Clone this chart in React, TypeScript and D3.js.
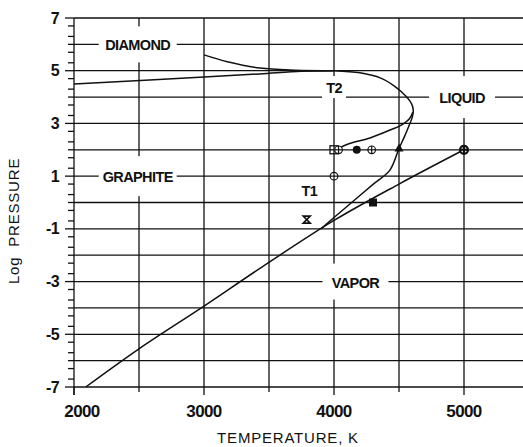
import React from "react";
import * as d3 from "d3";

// Phase diagram of carbon: log pressure vs temperature (K)
const W = 523;
const H = 447;

const xTicksMajor = [2000, 3000, 4000, 5000];
const xTicksMinor = [2500, 3500, 4500, 5500];
const yTickLabels = [7, 5, 3, 1, -1, -3, -5, -7];
const yGrid = [7, 6, 5, 4, 3, 2, 1, 0, -1, -2, -3, -4, -5, -6, -7];
const xGrid = [2500, 3000, 3500, 4000, 4500, 5000, 5500];

// Graphite / diamond boundary up to the T2 triple point
const graphiteDiamond: [number, number][] = [
  [2000, 4.5], [3000, 4.76], [3430, 4.88], [3750, 4.98], [4000, 5.0],
];
// Metastable diamond branch
const diamondBranch: [number, number][] = [
  [3000, 5.6], [3180, 5.34], [3430, 5.1], [3700, 5.02], [4000, 5.0],
];
// Melting curve from T2 round the bulge down to T1
const meltingCurve: [number, number][] = [
  [4000, 5.0], [4200, 4.92], [4360, 4.72], [4470, 4.4], [4550, 4.05],
  [4596, 3.75], [4610, 3.5], [4603, 3.25], [4580, 2.95], [4542, 2.5],
  [4500, 2.05], [4430, 1.23], [4300, 0.69], [4136, 0.0], [4000, -0.57],
  [3900, -1.0],
];
// Inner branch from the bulge back to 4000 K
const innerBranch: [number, number][] = [
  [4606, 3.42], [4580, 3.18], [4510, 2.92], [4431, 2.75], [4277, 2.45],
  [4120, 2.24], [4020, 2.02],
];
// Sublimation (vapor) curve
const vaporCurve: [number, number][] = [
  [2090, -7], [2500, -5.55], [3000, -3.93], [3430, -2.5], [4000, -0.68],
  [4500, 0.7], [5000, 2.0],
];

// Experimental points
const squareCross: [number, number][] = [[4000, 2]];
const circleCross: [number, number][] = [[4035, 2], [4290, 2], [4000, 1]];
const boldCircleCross: [number, number][] = [[5000, 2]];
const filledCircle: [number, number][] = [[4175, 2]];
const filledTriangle: [number, number][] = [[4500, 2.05]];
const filledSquare: [number, number][] = [[4300, 0.0]];
const hourglass: [number, number][] = [[3790, -0.65]];

// Region labels: text, temperature, log pressure, box width, box height
const regionNames = ["DIAMOND", "GRAPHITE", "LIQUID", "VAPOR", "T2", "T1"];
const regionT = [2490, 2490, 4985, 4165, 4000, 3810];
const regionP = [6, 1, 4, -3, 4.38, 0.47];
const regionBoxW = [78, 78, 66, 66, 24, 0];
const regionBoxH = [36, 40, 42, 36, 22, 0];

export default function App() {
  const x = d3.scaleLinear().domain([2000, 5500]).range([74, 529]);
  const y = d3.scaleLinear().domain([-7, 7]).range([387, 18]);
  const line = d3
    .line<[number, number]>()
    .x((d) => x(d[0]))
    .y((d) => y(d[1]))
    .curve(d3.curveCatmullRom.alpha(0.5));

  const yMinor: number[] = [];
  for (let k = -7; k < 7; k++) {
    yMinor.push(k + 0.301, k + 0.699);
  }

  const stroke = "#111";
  const curveW = 1.5;

  const circlePlus = (p: [number, number], r: number, sw: number, key: string) => {
    const cx = x(p[0]);
    const cy = y(p[1]);
    return (
      <g key={key} stroke={stroke} strokeWidth={sw} fill="white">
        <circle cx={cx} cy={cy} r={r} />
        <line x1={cx - r} x2={cx + r} y1={cy} y2={cy} />
        <line x1={cx} x2={cx} y1={cy - r} y2={cy + r} />
      </g>
    );
  };

  return (
    <svg
      width={W}
      height={H}
      style={{ position: "absolute", left: 0, top: 0, background: "white" }}
    >
      <rect x={0} y={0} width={W} height={H} fill="white" />

      {/* grid */}
      <g stroke={stroke} strokeWidth={1.3}>
        {yGrid.map((v) => (
          <line key={"hg" + v} x1={x(2000)} x2={x(5500)} y1={y(v)} y2={y(v)} />
        ))}
        {xGrid.map((v) => (
          <line key={"vg" + v} x1={x(v)} x2={x(v)} y1={y(7)} y2={y(-7)} />
        ))}
        <line x1={x(2000)} x2={x(2000)} y1={y(7)} y2={y(-7) + 8} />
      </g>

      {/* axis ticks */}
      <g stroke={stroke} strokeWidth={1.3}>
        {yGrid.map((v) => (
          <line
            key={"yt" + v}
            x1={x(2000) - (Math.abs(v) % 2 === 1 ? 9 : 6)}
            x2={x(2000)}
            y1={y(v)}
            y2={y(v)}
          />
        ))}
        {yMinor.map((v, i) => (
          <line key={"ym" + i} x1={x(2000) - 6} x2={x(2000)} y1={y(v)} y2={y(v)} />
        ))}
        {xTicksMajor.map((v) => (
          <line key={"xt" + v} x1={x(v)} x2={x(v)} y1={y(-7)} y2={y(-7) + 8} />
        ))}
        {xTicksMinor.map((v) => (
          <line key={"xm" + v} x1={x(v)} x2={x(v)} y1={y(-7)} y2={y(-7) + 5} />
        ))}
      </g>

      {/* label boxes hide the grid behind the region names */}
      {regionNames.map((n, i) =>
        regionBoxW[i] > 0 ? (
          <rect
            key={"bx" + n}
            x={x(regionT[i]) - regionBoxW[i] / 2}
            y={y(regionP[i]) - regionBoxH[i] / 2}
            width={regionBoxW[i]}
            height={regionBoxH[i]}
            fill="white"
          />
        ) : null
      )}

      {/* phase boundaries */}
      <g fill="none" stroke={stroke} strokeWidth={curveW} strokeLinejoin="round">
        <path d={line(graphiteDiamond) || ""} />
        <path d={line(diamondBranch) || ""} />
        <path d={line(meltingCurve) || ""} />
        <path d={line(innerBranch) || ""} />
        <path d={line(vaporCurve) || ""} />
      </g>

      {/* markers */}
      {squareCross.map((p, i) => {
        const cx = x(p[0]);
        const cy = y(p[1]);
        return (
          <g key={"sq" + i} stroke={stroke} strokeWidth={1.3} fill="white">
            <rect x={cx - 4} y={cy - 4} width={8} height={8} />
            <line x1={cx - 4} x2={cx + 4} y1={cy} y2={cy} />
            <line x1={cx} x2={cx} y1={cy - 4} y2={cy + 4} />
          </g>
        );
      })}
      {circleCross.map((p, i) => circlePlus(p, 3.8, 1.2, "cc" + i))}
      {boldCircleCross.map((p, i) => circlePlus(p, 4, 2.2, "bc" + i))}
      {filledCircle.map((p, i) => (
        <circle key={"fc" + i} cx={x(p[0])} cy={y(p[1])} r={4} fill={stroke} />
      ))}
      {filledTriangle.map((p, i) => {
        const cx = x(p[0]);
        const cy = y(p[1]);
        return (
          <path
            key={"tr" + i}
            d={`M${cx},${cy - 5}L${cx + 4.5},${cy + 3}L${cx - 4.5},${cy + 3}Z`}
            fill={stroke}
          />
        );
      })}
      {filledSquare.map((p, i) => (
        <rect key={"fs" + i} x={x(p[0]) - 4} y={y(p[1]) - 4} width={8} height={8} fill={stroke} />
      ))}
      {hourglass.map((p, i) => {
        const cx = x(p[0]);
        const cy = y(p[1]);
        return (
          <path
            key={"hg" + i}
            d={`M${cx - 3.5},${cy - 3.5}L${cx + 3.5},${cy - 3.5}L${cx - 3.5},${cy + 3.5}L${cx + 3.5},${cy + 3.5}Z`}
            fill="none"
            stroke={stroke}
            strokeWidth={1.6}
          />
        );
      })}

      {/* region names */}
      <g
        fontFamily="'Liberation Sans', Arial, sans-serif"
        fontWeight="bold"
        fontSize={14.5}
        letterSpacing={-0.6}
        fill={stroke}
        textAnchor="middle"
        dominantBaseline="central"
      >
        {regionNames.map((n, i) => (
          <text key={"rn" + n} x={x(regionT[i])} y={y(regionP[i]) + 1}>
            {n}
          </text>
        ))}
      </g>

      {/* tick labels */}
      <g
        fontFamily="'Liberation Sans', Arial, sans-serif"
        fontWeight="bold"
        fontSize={16}
        letterSpacing={-0.6}
        fill={stroke}
      >
        {yTickLabels.map((v) => (
          <text
            key={"yl" + v}
            x={x(2000) - 15}
            y={y(v)}
            textAnchor="end"
            dominantBaseline="central"
          >
            {v < 0 ? "-" + Math.abs(v) : String(v)}
          </text>
        ))}
        {xTicksMajor.map((v, i) => (
          <text
            key={"xl" + v}
            x={x(v) + (i === 0 ? 8 : 0)}
            y={y(-7) + 30}
            textAnchor="middle"
            fontSize={17}
          >
            {v}
          </text>
        ))}
      </g>

      {/* axis titles */}
      <text
        x={288}
        y={443}
        textAnchor="middle"
        fontFamily="'Liberation Sans', Arial, sans-serif"
        fontSize={15}
        letterSpacing={0.8}
        fill={stroke}
      >
        TEMPERATURE, K
      </text>
      <text
        transform={`translate(19,${y(-0.7)}) rotate(-90)`}
        textAnchor="middle"
        fontFamily="'Liberation Sans', Arial, sans-serif"
        fontSize={15}
        letterSpacing={0.8}
        fill={stroke}
        xmlSpace="preserve"
      >
        {"Log  PRESSURE"}
      </text>
    </svg>
  );
}
